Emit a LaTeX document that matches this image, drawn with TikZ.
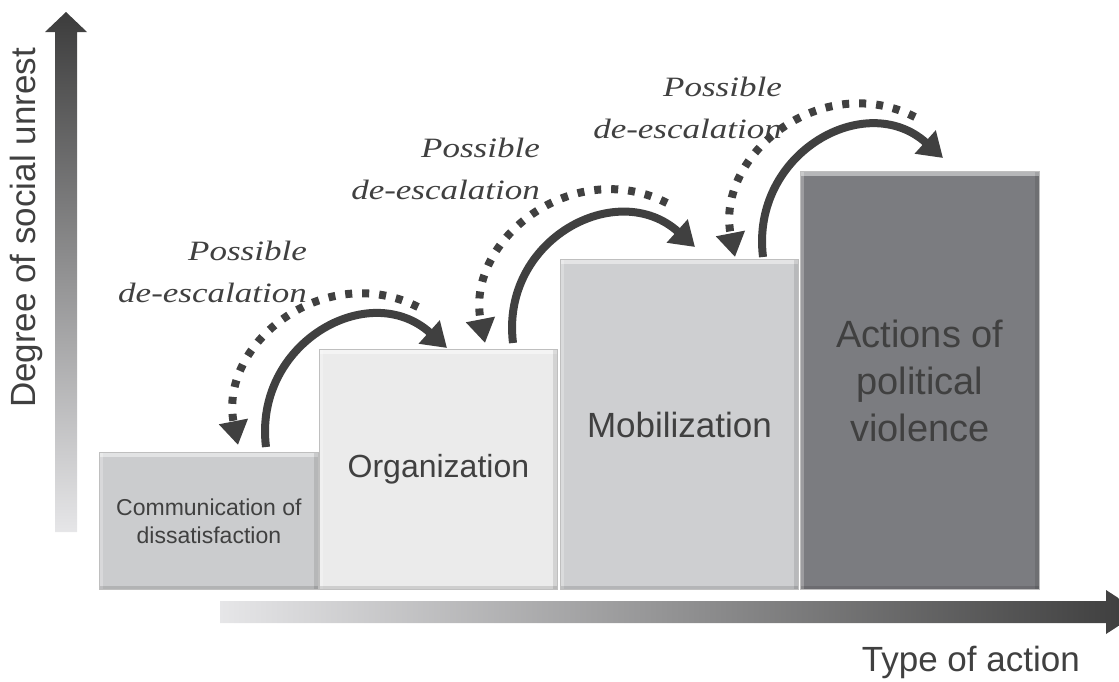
\documentclass[tikz,border=0pt]{standalone}
\usepackage{fontspec}
\setmainfont{Liberation Sans}
\newfontfamily\escfont[FakeStretch=1.25]{Liberation Serif}
\usetikzlibrary{arrows.meta}

\definecolor{inkgray}{HTML}{404040}
\definecolor{stageA}{HTML}{CBCCCE}
\definecolor{stageB}{HTML}{EBEBEB}
\definecolor{stageC}{HTML}{CECFD1}
\definecolor{stageD}{HTML}{7B7C80}
\definecolor{axislight}{HTML}{E6E6E8}
\definecolor{axisdark}{HTML}{3C3C3C}

\tikzset{
  stage/.style={rectangle, anchor=south west, inner sep=0pt, align=center,
    text=inkgray, draw=black!25, line width=0.8pt,
    path picture={
      \fill[white,opacity=.45] (path picture bounding box.north west) rectangle ([yshift=-4pt]path picture bounding box.north east);
      \fill[white,opacity=.25] (path picture bounding box.north west) rectangle ([xshift=4pt]path picture bounding box.south west);
      \fill[black,opacity=.10] ([xshift=-4pt]path picture bounding box.north east) rectangle (path picture bounding box.south east);
      \fill[black,opacity=.12] ([yshift=4pt]path picture bounding box.south west) rectangle (path picture bounding box.south east);
    }},
  escalate/.style={draw=inkgray, line width=8pt, -{Triangle[width=30pt,length=24pt]},
    out=97, in=138, looseness=1.3},
  deescalate/.style={draw=inkgray, line width=8pt, dash pattern=on 7pt off 10pt,
    -{Triangle[width=28pt,length=24pt]}, out=153, in=101, looseness=1.17},
  % anchored on the baseline of the last line
  esclabel/.style={anchor=base east, align=right, inner sep=0pt, text=inkgray,
    font=\escfont\itshape\fontsize{28}{42}\selectfont}
}

\begin{document}
\begin{tikzpicture}[x=1pt, y=1pt]
        \useasboundingbox (0,-681) rectangle (1119,0);
        % axes
        \shade[top color=axisdark, bottom color=axislight] (55,-532) -- (55,-32) -- (45,-32) -- (66,-12) -- (87,-32) -- (77,-32) -- (77,-532) -- cycle;
        \begin{scope}
          \clip (0,-681) rectangle (1119,0);
          \shade[left color=axislight, right color=axisdark] (220,-601) -- (1106,-601) -- (1106,-590) -- (1140,-612) -- (1106,-634) -- (1106,-623) -- (220,-623) -- cycle;
        \end{scope}
        \node[rotate=90, anchor=base, text=inkgray, font=\fontsize{35}{42}\selectfont] (unrest) at (35,-228) {Degree of social unrest};
        \node[anchor=base east, inner sep=0pt, text=inkgray, font=\fontsize{35}{42}\selectfont] (action) at (1080,-671) {Type of action};
        % the four stages
        \node[stage, fill=stageA, minimum width=219pt, minimum height=137pt, font=\fontsize{23}{28}\selectfont] (comm) at (99,-590) {Communication of\\dissatisfaction};
        \node[stage, fill=stageB, minimum width=238pt, minimum height=240pt, font=\fontsize{32}{38}\selectfont] (orga) at (319,-590) {Organization};
        \node[stage, fill=stageC, minimum width=238pt, minimum height=330pt, font=\fontsize{35}{42}\selectfont] (mobi) at (560,-590) {Mobilization};
        \node[stage, fill=stageD, minimum width=239pt, minimum height=418pt, font=\fontsize{38}{47}\selectfont] (viol) at (800,-590) {Actions of\\political\\violence};
        % escalation / de-escalation arcs
        \coordinate (rise1s) at (266,-447);
        \coordinate (rise1e) at (447,-348);
        \coordinate (fall1s) at (418,-307);
        \coordinate (fall1e) at (238,-445);
        \coordinate (rise2s) at (513,-343);
        \coordinate (rise2e) at (695,-247);
        \coordinate (fall2s) at (667,-203);
        \coordinate (fall2e) at (485,-343);
        \coordinate (rise3s) at (763,-257);
        \coordinate (rise3e) at (943,-158);
        \coordinate (fall3s) at (915,-117);
        \coordinate (fall3e) at (735,-257);
        \draw[escalate] (rise1s) to (rise1e);
        \draw[deescalate] (fall1s) to (fall1e);
        \draw[escalate] (rise2s) to (rise2e);
        \draw[deescalate] (fall2s) to (fall2e);
        \draw[escalate] (rise3s) to (rise3e);
        \draw[deescalate] (fall3s) to (fall3e);
        \node[esclabel] (hint1) at (307,-302) {Possible\\de-escalation};
        \node[esclabel] (hint2) at (540,-199) {Possible\\de-escalation};
        \node[esclabel] (hint3) at (782,-138) {Possible\\de-escalation};
\end{tikzpicture}
\end{document}
